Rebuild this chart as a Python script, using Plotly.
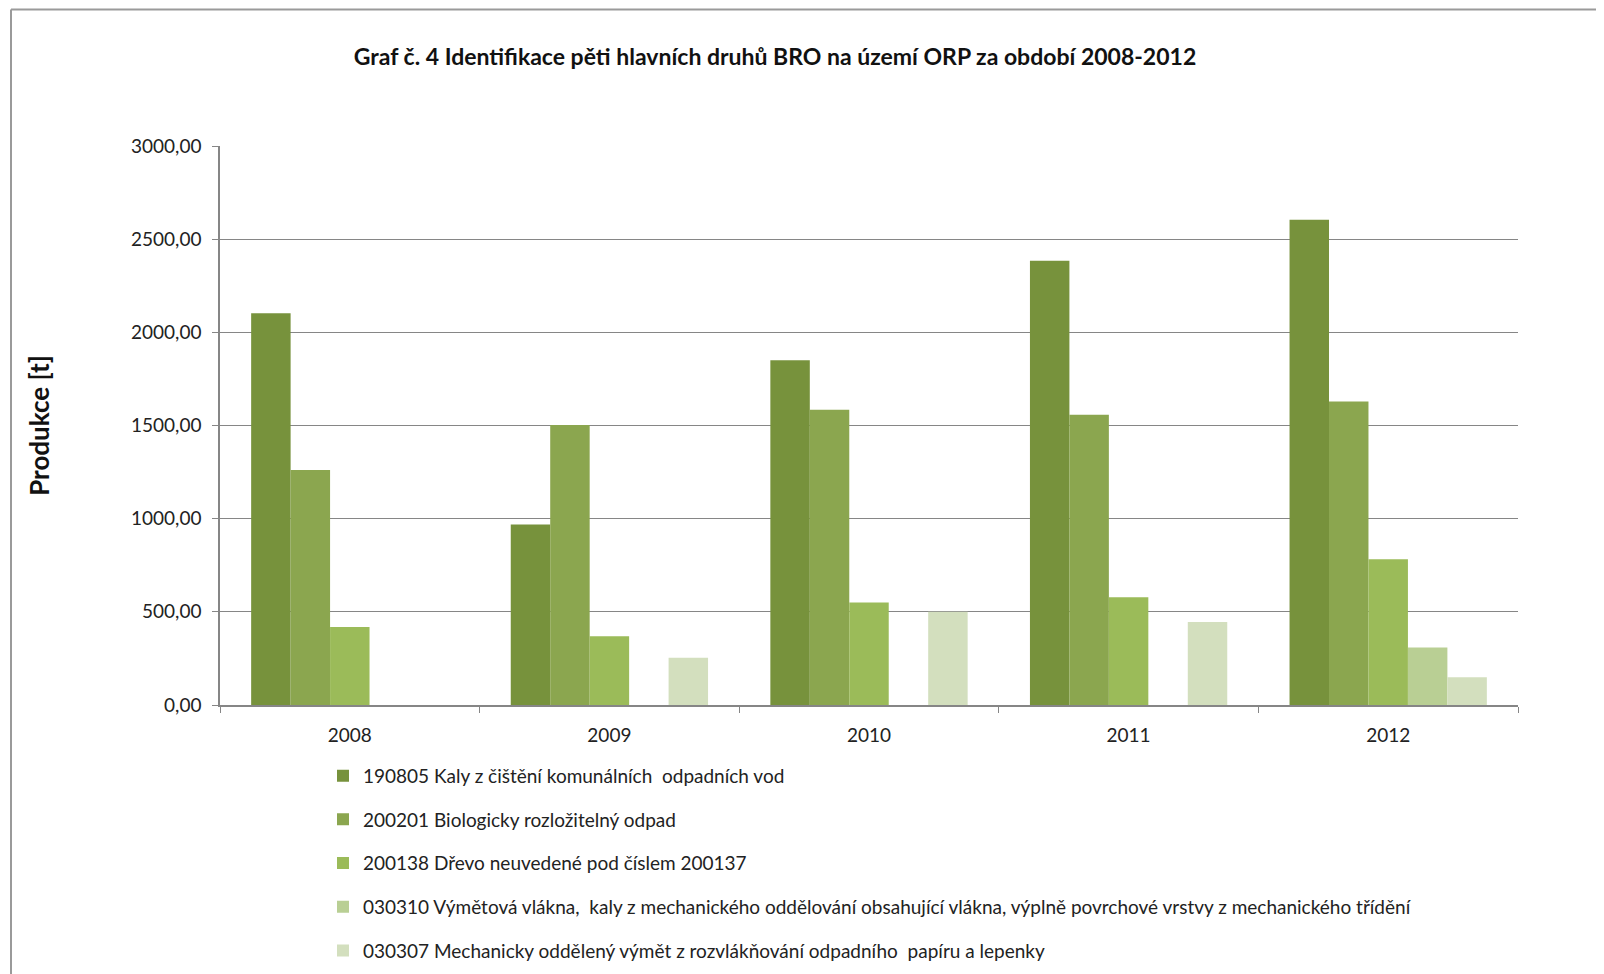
import plotly.graph_objects as go

years = ["2008", "2009", "2010", "2011", "2012"]

series_names = [
    "190805 Kaly z čištění komunálních  odpadních vod",
    "200201 Biologicky rozložitelný odpad",
    "200138 Dřevo neuvedené pod číslem 200137",
    "030310 Výmětová vlákna,  kaly z mechanického oddělování obsahující vlákna, výplně povrchové vrstvy z mechanického třídění",
    "030307 Mechanicky oddělený výmět z rozvlákňování odpadního  papíru a lepenky",
]

kaly = [2103, 969, 1850, 2384, 2604]
bio = [1261, 1503, 1585, 1558, 1629]
drevo = [418, 369, 550, 578, 782]
vlakna = [None, None, None, None, 308]
vymet = [None, 253, 501, 446, 149]

colors = ["#77923C", "#8BA64F", "#9BBB59", "#B9CF94", "#D3DFBE"]

y_ticks = [0, 500, 1000, 1500, 2000, 2500, 3000]
y_tick_text = ["0,00", "500,00", "1000,00", "1500,00", "2000,00", "2500,00", "3000,00"]

FONT = "Lato, Open Sans, sans-serif"
W, H = 1604, 974
L, R, T, B = 212, 94, 138, 275
PW, PH = W - L - R, H - T - B

fig = go.Figure()
for i, (name, vals) in enumerate(zip(series_names, [kaly, bio, drevo, vlakna, vymet])):
    fig.add_trace(
        go.Bar(
            x=years,
            y=vals,
            name=name,
            legendgroup=f"g{i}",
            marker=dict(color=colors[i], line=dict(width=0)),
        )
    )

# chart-area border (top and left edges are visible in the original)
border_top = (H - B - 1) / PH
border_left = (3 - L) / PW

fig.update_layout(
    width=W,
    height=H,
    paper_bgcolor="white",
    plot_bgcolor="white",
    barmode="group",
    bargap=0.24,
    bargroupgap=0,
    margin=dict(l=L, r=R, t=T, b=B),
    font=dict(family=FONT, size=19, color="#222222"),
    title=dict(
        text="<b>Graf č. 4 Identifikace pěti hlavních druhů BRO na území ORP za období 2008-2012</b>",
        x=767 / W,
        xanchor="center",
        y=1 - 49 / H,
        yanchor="middle",
        font=dict(family=FONT, size=23, color="#111111"),
    ),
    showlegend=True,
    legend=dict(
        orientation="v",
        x=(315 - L) / PW,
        xanchor="left",
        y=-(751 - (H - B)) / PH,
        yanchor="top",
        tracegroupgap=16,
        font=dict(family=FONT, size=19, color="#222222"),
        itemwidth=30,
        bgcolor="rgba(0,0,0,0)",
    ),
    shapes=[
        dict(type="line", xref="paper", yref="paper",
             x0=border_left, x1=1.2, y0=border_top, y1=border_top,
             line=dict(color="#9a9a9a", width=2)),
        dict(type="line", xref="paper", yref="paper",
             x0=border_left, x1=border_left, y0=-0.6, y1=border_top,
             line=dict(color="#9a9a9a", width=2)),
    ],
)

fig.update_xaxes(
    showline=True,
    linecolor="#868686",
    linewidth=1.5,
    ticks="outside",
    tickson="boundaries",
    ticklen=6,
    tickcolor="#868686",
    showgrid=False,
    ticklabelstandoff=12,
    tickfont=dict(family=FONT, size=19, color="#222222"),
)

fig.update_yaxes(
    range=[0, 3000],
    tickvals=y_ticks,
    ticktext=y_tick_text,
    showline=True,
    linecolor="#868686",
    linewidth=1.5,
    ticks="outside",
    ticklen=6,
    tickcolor="#868686",
    showgrid=True,
    gridcolor="#868686",
    gridwidth=1.2,
    zeroline=False,
    ticklabelstandoff=7,
    tickfont=dict(family=FONT, size=19, color="#222222"),
    title=dict(text="<b>Produkce [t]</b>", font=dict(family=FONT, size=26, color="#111111"), standoff=74),
)

fig.write_html("out.html")
